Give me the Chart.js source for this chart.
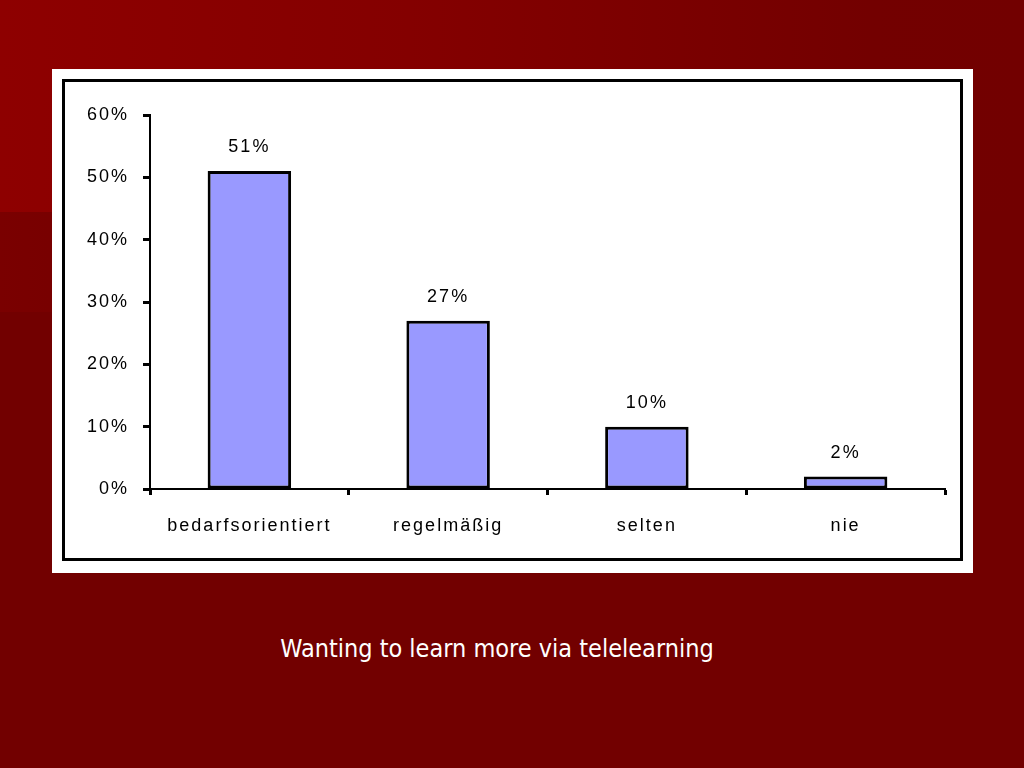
<!DOCTYPE html>
<html>
<head>
<meta charset="utf-8">
<script src="https://cdn.jsdelivr.net/npm/chart.js@4.4.1/dist/chart.umd.min.js"></script>
<style>
    html, body { margin: 0; padding: 0; }
    body {
        width: 1024px; height: 768px; overflow: hidden; position: relative;
        background: #720000;
    }
    .top-band {
        position: absolute; left: 0; top: 0; width: 1024px; height: 212px;
        background: linear-gradient(to right, #8e0000 0%, #840000 40%, #730000 85%, #720000 100%);
    }
    .left-shade {
        position: absolute; left: 0; top: 212px; width: 200px; height: 100px;
        background: linear-gradient(to right, #7a0000, #720000);
    }
    .white-box {
        position: absolute; left: 52px; top: 69px; width: 921px; height: 504px;
        background: #ffffff;
    }
    .frame {
        position: absolute; left: 62px; top: 79px; width: 901px; height: 482px;
        box-sizing: border-box; border: 3px solid #000;
    }
    .frame canvas { display: block; }
    .caption {
        position: absolute; left: 0; width: 994px; top: 634px; text-align: center;
        color: #ffffff; font-family: "DejaVu Sans Condensed", "DejaVu Sans", sans-serif;
        font-size: 25px;
    }
</style>
</head>
<body>
<div class="top-band"></div>
<div class="left-shade"></div>
<div class="white-box"></div>
<div class="frame">
    <canvas id="chart" width="895" height="476"></canvas>
</div>
<div class="caption">Wanting to learn more via telelearning</div>

<script>
// Chart data
const categories = ['bedarfsorientiert', 'regelmäßig', 'selten', 'nie'];
const shares = [51, 27, 10, 2];
const valueLabels = ['51%', '27%', '10%', '2%'];
const yTicks = [0, 10, 20, 30, 40, 50, 60];

const FONT = { family: '"Liberation Sans", Arial, sans-serif', size: 18 };

// Wider letter spacing, like the old bitmap font
const spacingPlugin = {
    id: 'spacing',
    beforeDraw(chart) {
        chart.ctx.letterSpacing = '2px';
    }
};

// Value labels above each bar
const valueLabelPlugin = {
    id: 'valueLabels',
    afterDatasetsDraw(chart) {
        const ctx = chart.ctx;
        const meta = chart.getDatasetMeta(0);
        ctx.save();
        ctx.letterSpacing = '2px';
        ctx.font = FONT.size + 'px ' + FONT.family;
        ctx.fillStyle = '#000';
        ctx.textAlign = 'center';
        ctx.textBaseline = 'middle';
        meta.data.forEach((bar, i) => {
            ctx.fillText(valueLabels[i], bar.x, bar.y - 24);
        });
        ctx.restore();
    }
};

new Chart(document.getElementById('chart'), {
    type: 'bar',
    data: {
        labels: categories,
        datasets: [{
            data: shares,
            backgroundColor: '#9999ff',
            borderColor: '#000000',
            borderWidth: 3,
            borderSkipped: false,
            barPercentage: 0.42,
            categoryPercentage: 1
        }]
    },
    options: {
        responsive: false,
        animation: false,
        layout: { padding: { top: 33, right: 15, left: 0, bottom: 0 } },
        plugins: {
            legend: { display: false },
            tooltip: { enabled: false }
        },
        scales: {
            x: {
                afterFit: s => { s.height = 69; },
                border: { color: '#000', width: 2 },
                grid: {
                    offset: true,
                    drawOnChartArea: false,
                    tickLength: 6,
                    tickColor: '#000',
                    tickWidth: 3
                },
                ticks: { color: '#000', font: FONT, padding: 20, maxRotation: 0 }
            },
            y: {
                min: 0,
                max: 60,
                afterFit: s => { s.width = 85; },
                afterBuildTicks: s => { s.ticks = yTicks.map(v => ({ value: v })); },
                border: { color: '#000', width: 2 },
                grid: {
                    drawOnChartArea: false,
                    tickLength: 7,
                    tickColor: '#000',
                    tickWidth: 3
                },
                ticks: {
                    color: '#000',
                    font: FONT,
                    padding: 14,
                    callback: v => v + '%'
                }
            }
        }
    },
    plugins: [spacingPlugin, valueLabelPlugin]
});
</script>
</body>
</html>
